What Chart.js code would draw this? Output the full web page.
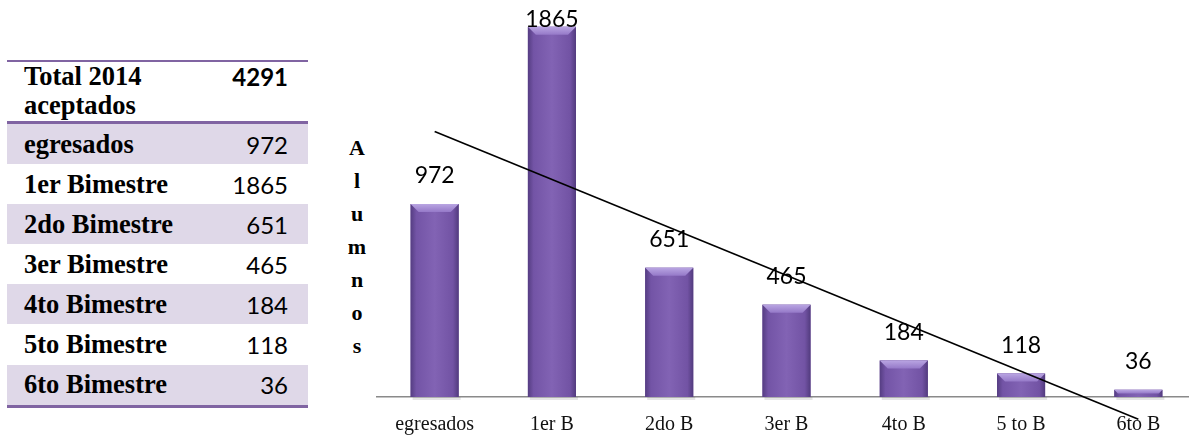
<!DOCTYPE html>
<html lang="es">
<head>
  <meta charset="UTF-8">
  <title>Total 2014 aceptados</title>
  <script src="https://cdn.jsdelivr.net/npm/chart.js"></script>
  <style>
    body {
      margin: 0;
      width: 1189px;
      height: 435px;
      overflow: hidden;
      background: #fff;
      position: relative;
    }

    #tabla {
      position: absolute;
      left: 7px;
      top: 60px;
      width: 301px;
      border-collapse: collapse;
      border-top: 2px solid #8064a2;
      border-bottom: 3px solid #8064a2;
    }

    #tabla td {
      padding: 0;
      height: 40.1px;
    }

    #tabla .nombre {
      font: bold 26.5px "Liberation Serif", serif;
      padding-left: 17px;
      color: #000;
    }

    #tabla .valor {
      font: 24px Lato, sans-serif;
      text-align: right;
      padding-right: 20px;
      color: #000;
    }

    #tabla tr.cabecera td {
      height: 59px;
      vertical-align: top;
      line-height: 30px;
      border-bottom: 3px solid #8064a2;
    }

    #tabla tr.cabecera .nombre {
      line-height: 29px;
    }

    #tabla tr.cabecera .valor {
      font-weight: bold;
      line-height: 30px;
    }

    #tabla tr.banda td {
      background: #dfd8e8;
    }

    #eje-y {
      position: absolute;
      left: 344px;
      top: 131px;
      width: 26px;
      text-align: center;
      font: bold 22px "Liberation Serif", serif;
      line-height: 33px;
      color: #000;
    }

    #grafico {
      position: absolute;
      left: 376px;
      top: 0;
      width: 821px;
      height: 435px;
    }
  </style>
</head>
<body>

  <table id="tabla"></table>
  <div id="eje-y"></div>

  <div id="grafico">
    <canvas id="barras"></canvas>
  </div>

  <script>
    const categorias = ['egresados', '1er B', '2do B', '3er B', '4to B', '5 to B', '6to B'];
    const nombresTabla = ['egresados', '1er Bimestre', '2do Bimestre', '3er Bimestre', '4to Bimestre', '5to Bimestre', '6to Bimestre'];
    const alumnos = [972, 1865, 651, 465, 184, 118, 36];
    const totalAceptados = 4291;
    // linea de tendencia (inicio y fin)
    const tendencia = [1338, null, null, null, null, null, -112];
    const tituloEje = 'Alumnos';

    // tabla de la izquierda
    const tabla = document.getElementById('tabla');
    let filas = '<tr class="cabecera"><td class="nombre">Total 2014<br>aceptados</td>' +
      '<td class="valor">' + totalAceptados + '</td></tr>';
    nombresTabla.forEach((n, i) => {
      filas += '<tr class="' + (i % 2 === 0 ? 'banda' : '') + '"><td class="nombre">' + n +
        '</td><td class="valor">' + alumnos[i] + '</td></tr>';
    });
    tabla.innerHTML = filas;

    document.getElementById('eje-y').innerHTML = tituloEje.split('').join('<br>');

    // sombreado de las barras con bisel arriba
    const estiloBarras = {
      id: 'estiloBarras',
      afterDatasetDraw(chart, args) {
        if (args.index !== 0) return;
        const ctx = chart.ctx;
        const meta = chart.getDatasetMeta(0);
        ctx.save();
        meta.data.forEach((bar, i) => {
          const izq = bar.x - bar.width / 2;
          const der = bar.x + bar.width / 2;
          const arriba = bar.y;
          const abajo = bar.base;

          // sombra suave bajo la barra
          ctx.fillStyle = 'rgba(0,0,0,0.10)';
          ctx.fillRect(izq + 2, abajo, bar.width, 3);

          const g = ctx.createLinearGradient(izq, 0, der, 0);
          g.addColorStop(0, '#553d82');
          g.addColorStop(0.12, '#7354a6');
          g.addColorStop(0.5, '#8263b4');
          g.addColorStop(0.88, '#7253a4');
          g.addColorStop(1, '#523b7e');
          ctx.fillStyle = g;
          ctx.fillRect(izq, arriba, bar.width, abajo - arriba);

          const b = Math.min(8, (abajo - arriba) / 2);
          const gb = ctx.createLinearGradient(0, arriba, 0, arriba + b);
          gb.addColorStop(0, '#b9a5e2');
          gb.addColorStop(1, '#9579c8');
          ctx.fillStyle = gb;
          ctx.beginPath();
          ctx.moveTo(izq, arriba);
          ctx.lineTo(der, arriba);
          ctx.lineTo(der - b, arriba + b);
          ctx.lineTo(izq + b, arriba + b);
          ctx.closePath();
          ctx.fill();

          // etiqueta de valor
          ctx.fillStyle = '#000';
          ctx.font = '23px Lato, sans-serif';
          ctx.textAlign = 'center';
          ctx.textBaseline = 'middle';
          const yEtiqueta = Math.max(arriba - 28, chart.chartArea.top + 20);
          ctx.fillText(alumnos[i], bar.x, yEtiqueta);
        });
        ctx.restore();
      }
    };

    new Chart(document.getElementById('barras'), {
      data: {
        labels: categorias,
        datasets: [
          {
            type: 'bar',
            data: alumnos,
            backgroundColor: '#7b5ba8',
            categoryPercentage: 1,
            barPercentage: 0.41,
            order: 1
          },
          {
            type: 'line',
            data: tendencia,
            spanGaps: true,
            borderColor: '#000',
            borderWidth: 1.6,
            pointRadius: 0,
            tension: 0,
            clip: false,
            order: 0
          }
        ]
      },
      options: {
        responsive: true,
        maintainAspectRatio: false,
        animation: false,
        layout: { padding: 0 },
        plugins: {
          legend: { display: false },
          tooltip: { enabled: false }
        },
        scales: {
          x: {
            offset: true,
            grid: { display: false, drawTicks: false },
            border: { display: true, color: '#8a8a8a', width: 1.5 },
            ticks: {
              color: '#111',
              padding: 16,
              maxRotation: 0,
              autoSkip: false,
              font: { family: '"Liberation Serif", serif', size: 20 }
            },
            afterFit(scale) {
              scale.height = 38;
            }
          },
          y: {
            display: false,
            min: 0,
            max: 2000
          }
        }
      },
      plugins: [estiloBarras]
    });
  </script>

</body>
</html>
